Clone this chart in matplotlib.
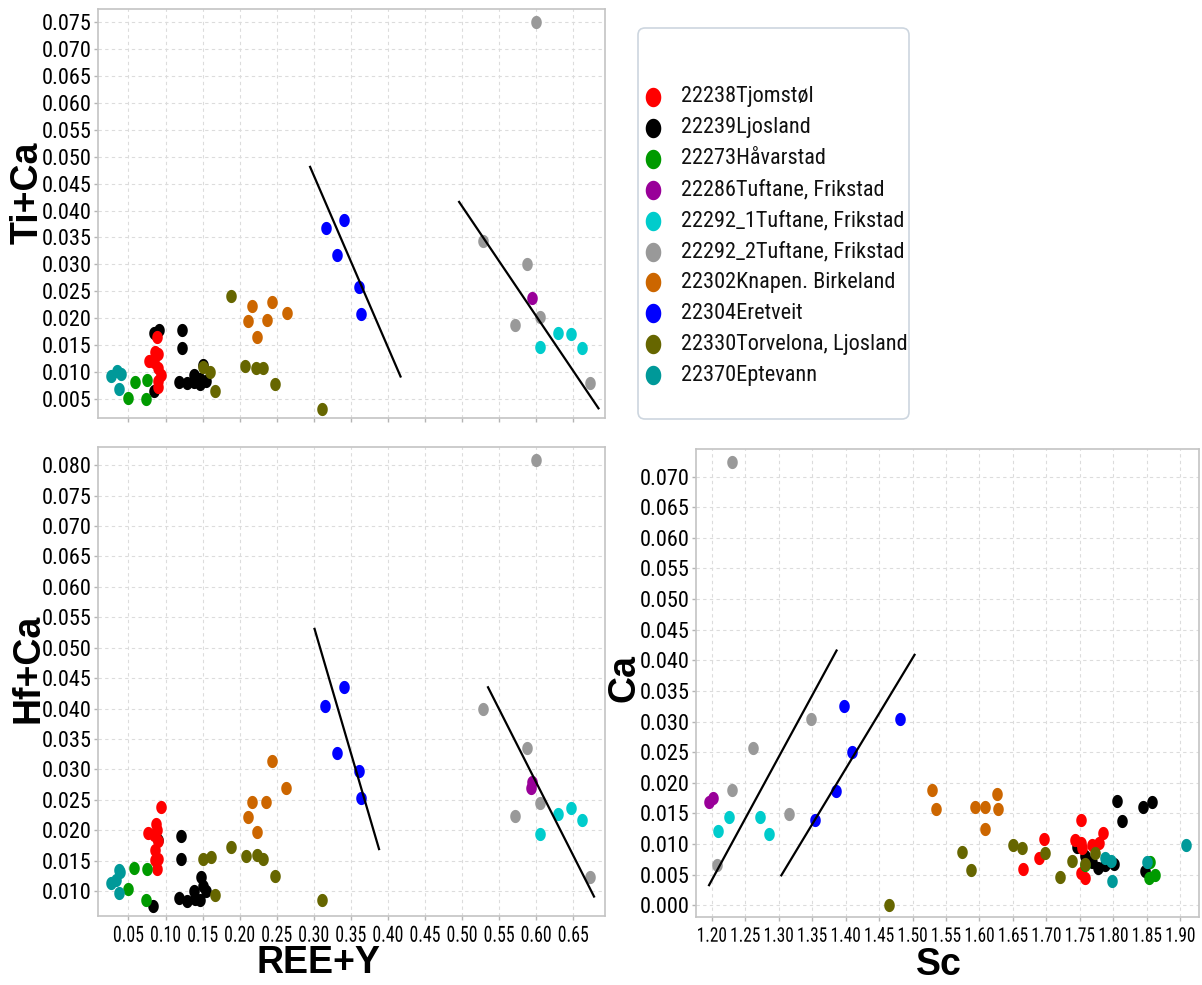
import matplotlib
matplotlib.use("Agg")
import matplotlib.pyplot as plt
from matplotlib import font_manager as fm
from matplotlib.path import Path
from matplotlib.patches import FancyBboxPatch
from matplotlib.patheffects import AbstractPathEffect
from matplotlib.transforms import Affine2D
import numpy as np

groups = ['22238Tjomstøl', '22239Ljosland', '22273Håvarstad', '22286Tuftane, Frikstad',
          '22292_1Tuftane, Frikstad', '22292_2Tuftane, Frikstad', '22302Knapen. Birkeland',
          '22304Eretveit', '22330Torvelona, Ljosland', '22370Eptevann']
colors = ['#ff0000', '#000000', '#009a00', '#990099', '#00cccc',
          '#999999', '#cc6600', '#0000ff', '#666600', '#009999']

# REE+Y vs Ti+Ca (upper left)
ti_x = {
    '22238Tjomstøl': [0.088, 0.086, 0.090, 0.078, 0.084, 0.090, 0.094, 0.090, 0.090],
    '22239Ljosland': [0.084, 0.091, 0.084, 0.122, 0.122, 0.118, 0.129, 0.139, 0.139, 0.147, 0.150, 0.154, 0.147],
    '22273Håvarstad': [0.049, 0.059, 0.075, 0.073],
    '22286Tuftane, Frikstad': [0.594],
    '22292_1Tuftane, Frikstad': [0.605, 0.629, 0.647, 0.662],
    '22292_2Tuftane, Frikstad': [0.600, 0.528, 0.588, 0.571, 0.605, 0.673],
    '22302Knapen. Birkeland': [0.216, 0.244, 0.211, 0.237, 0.264, 0.224],
    '22304Eretveit': [0.316, 0.341, 0.331, 0.361, 0.364],
    '22330Torvelona, Ljosland': [0.150, 0.160, 0.167, 0.188, 0.207, 0.222, 0.232, 0.248, 0.311],
    '22370Eptevann': [0.027, 0.034, 0.040, 0.037],
}
ti_y = {
    '22238Tjomstøl': [0.0166, 0.0138, 0.0133, 0.0120, 0.0119, 0.0108, 0.0095, 0.0083, 0.0072],
    '22239Ljosland': [0.0172, 0.0178, 0.0066, 0.0178, 0.0145, 0.0081, 0.0080, 0.0081, 0.0095, 0.0078, 0.0114, 0.0083, 0.0088],
    '22273Håvarstad': [0.0053, 0.0081, 0.0086, 0.0051],
    '22286Tuftane, Frikstad': [0.0238],
    '22292_1Tuftane, Frikstad': [0.0147, 0.0172, 0.0170, 0.0145],
    '22292_2Tuftane, Frikstad': [0.0750, 0.0344, 0.0300, 0.0188, 0.0203, 0.0080],
    '22302Knapen. Birkeland': [0.0223, 0.0231, 0.0195, 0.0197, 0.0210, 0.0166],
    '22304Eretveit': [0.0367, 0.0383, 0.0317, 0.0259, 0.0208],
    '22330Torvelona, Ljosland': [0.0109, 0.0100, 0.0066, 0.0242, 0.0111, 0.0108, 0.0108, 0.0078, 0.0031],
    '22370Eptevann': [0.0093, 0.0103, 0.0097, 0.0069],
}
ti_lines = [([0.295, 0.417], [0.0481, 0.0092]), ([0.496, 0.684], [0.0416, 0.0033])]

# REE+Y vs Hf+Ca (lower left)
hf_x = {
    '22238Tjomstøl': [0.094, 0.087, 0.088, 0.077, 0.084, 0.090, 0.086, 0.090, 0.088, 0.086],
    '22239Ljosland': [0.083, 0.090, 0.121, 0.121, 0.118, 0.129, 0.139, 0.140, 0.148, 0.147, 0.154, 0.150],
    '22273Håvarstad': [0.049, 0.058, 0.075, 0.073],
    '22286Tuftane, Frikstad': [0.593, 0.595],
    '22292_1Tuftane, Frikstad': [0.605, 0.629, 0.647, 0.662],
    '22292_2Tuftane, Frikstad': [0.600, 0.528, 0.588, 0.572, 0.605, 0.673],
    '22302Knapen. Birkeland': [0.243, 0.263, 0.216, 0.236, 0.211, 0.224],
    '22304Eretveit': [0.315, 0.341, 0.331, 0.361, 0.363],
    '22330Torvelona, Ljosland': [0.151, 0.161, 0.167, 0.188, 0.208, 0.223, 0.232, 0.247, 0.311],
    '22370Eptevann': [0.027, 0.033, 0.037, 0.039, 0.037],
}
hf_y = {
    '22238Tjomstøl': [0.0238, 0.0211, 0.0201, 0.0196, 0.0192, 0.0182, 0.0167, 0.0153, 0.0137, 0.0151],
    '22239Ljosland': [0.0075, 0.0184, 0.0190, 0.0153, 0.0089, 0.0083, 0.0100, 0.0087, 0.0123, 0.0086, 0.0100, 0.0108],
    '22273Håvarstad': [0.0104, 0.0138, 0.0137, 0.0086],
    '22286Tuftane, Frikstad': [0.0269, 0.0279],
    '22292_1Tuftane, Frikstad': [0.0193, 0.0226, 0.0237, 0.0217],
    '22292_2Tuftane, Frikstad': [0.0808, 0.0399, 0.0335, 0.0223, 0.0245, 0.0123],
    '22302Knapen. Birkeland': [0.0313, 0.0270, 0.0246, 0.0246, 0.0221, 0.0197],
    '22304Eretveit': [0.0404, 0.0436, 0.0327, 0.0297, 0.0253],
    '22330Torvelona, Ljosland': [0.0153, 0.0156, 0.0093, 0.0172, 0.0158, 0.0160, 0.0153, 0.0125, 0.0085],
    '22370Eptevann': [0.0114, 0.0119, 0.0135, 0.0132, 0.0096],
}
hf_lines = [([0.301, 0.388], [0.0531, 0.0169]), ([0.535, 0.678], [0.0435, 0.0091])]

# Sc vs Ca (lower right)
sc_x = {
    '22238Tjomstøl': [1.665, 1.689, 1.696, 1.751, 1.742, 1.751, 1.753, 1.768, 1.778, 1.785, 1.751, 1.758],
    '22239Ljosland': [1.745, 1.758, 1.768, 1.777, 1.788, 1.801, 1.806, 1.813, 1.845, 1.858, 1.847],
    '22273Håvarstad': [1.757, 1.855, 1.854, 1.862],
    '22286Tuftane, Frikstad': [1.196, 1.202],
    '22292_1Tuftane, Frikstad': [1.210, 1.226, 1.272, 1.285],
    '22292_2Tuftane, Frikstad': [1.231, 1.348, 1.261, 1.230, 1.315, 1.208],
    '22302Knapen. Birkeland': [1.529, 1.535, 1.594, 1.608, 1.609, 1.626, 1.628],
    '22304Eretveit': [1.397, 1.482, 1.409, 1.386, 1.354],
    '22330Torvelona, Ljosland': [1.465, 1.574, 1.588, 1.650, 1.664, 1.698, 1.720, 1.738, 1.772, 1.757],
    '22370Eptevann': [1.788, 1.797, 1.798, 1.909, 1.850],
}
sc_y = {
    '22238Tjomstøl': [0.0059, 0.0078, 0.0108, 0.0139, 0.0106, 0.0101, 0.0093, 0.0098, 0.0101, 0.0118, 0.0053, 0.0045],
    '22239Ljosland': [0.0095, 0.0081, 0.0070, 0.0061, 0.0066, 0.0067, 0.0171, 0.0137, 0.0161, 0.0169, 0.0056],
    '22273Håvarstad': [0.0066, 0.0070, 0.0045, 0.0050],
    '22286Tuftane, Frikstad': [0.0169, 0.0175],
    '22292_1Tuftane, Frikstad': [0.0121, 0.0145, 0.0145, 0.0117],
    '22292_2Tuftane, Frikstad': [0.0724, 0.0305, 0.0257, 0.0189, 0.0149, 0.0066],
    '22302Knapen. Birkeland': [0.0189, 0.0158, 0.0160, 0.0161, 0.0124, 0.0181, 0.0158],
    '22304Eretveit': [0.0325, 0.0304, 0.0250, 0.0187, 0.0139],
    '22330Torvelona, Ljosland': [0.0001, 0.0087, 0.0057, 0.0099, 0.0094, 0.0085, 0.0047, 0.0072, 0.0085, 0.0067],
    '22370Eptevann': [0.0078, 0.0073, 0.0039, 0.0099, 0.0070],
}
sc_lines = [([1.196, 1.3865], [0.0033, 0.0416]), ([1.304, 1.503], [0.0049, 0.0409])]

ree_ticks = [0.05, 0.10, 0.15, 0.20, 0.25, 0.30, 0.35, 0.40, 0.45, 0.50, 0.55, 0.60, 0.65]
ti_ticks = [0.005, 0.010, 0.015, 0.020, 0.025, 0.030, 0.035, 0.040, 0.045, 0.050,
            0.055, 0.060, 0.065, 0.070, 0.075]
hf_ticks = [0.010, 0.015, 0.020, 0.025, 0.030, 0.035, 0.040, 0.045, 0.050, 0.055,
            0.060, 0.065, 0.070, 0.075, 0.080]
sc_ticks = [1.20, 1.25, 1.30, 1.35, 1.40, 1.45, 1.50, 1.55, 1.60, 1.65, 1.70, 1.75,
            1.80, 1.85, 1.90]
ca_ticks = [0.000, 0.005, 0.010, 0.015, 0.020, 0.025, 0.030, 0.035, 0.040, 0.045,
            0.050, 0.055, 0.060, 0.065, 0.070]


# the tick labels in the picture are very narrow: look for a condensed face
def narrow_font():
    best = None
    for f in fm.fontManager.ttflist:
        if f.weight not in (400, 'normal', 'regular', 'book', 'Book'):
            continue
        if 'italic' in f.style or 'oblique' in f.style:
            continue
        name = f.name
        if 'Narrow' in name or 'Condensed' in name or f.stretch in ('condensed', 'semi-condensed'):
            rank = 0 if 'Liberation' in name else (1 if 'Roboto' in name else 2)
            if best is None or rank < best[0]:
                best = (rank, f.fname)
    return best[1] if best else None


class Squeeze(AbstractPathEffect):
    """draw text squeezed sideways around its own centre"""

    def __init__(self, sx):
        super().__init__()
        self.sx = sx

    def draw_path(self, renderer, gc, tpath, affine, rgbFace=None):
        ext = tpath.get_extents()
        cx = 0.5 * (ext.x0 + ext.x1)
        squeeze = Affine2D().translate(-cx, 0).scale(self.sx, 1).translate(cx, 0)
        renderer.draw_path(gc, tpath, squeeze + affine, rgbFace)


nf = narrow_font()
if nf:
    ytick_fp = fm.FontProperties(fname=nf, size=16)
    xtick_fp = fm.FontProperties(fname=nf, size=16)
    sctick_fp = fm.FontProperties(fname=nf, size=14.5)
    leg_fp = fm.FontProperties(fname=nf, size=16)
else:
    ytick_fp = fm.FontProperties(family='DejaVu Sans', size=12.5)
    xtick_fp = fm.FontProperties(family='DejaVu Sans', size=12.5)
    sctick_fp = fm.FontProperties(family='DejaVu Sans', size=11)
    leg_fp = fm.FontProperties(family='DejaVu Sans', size=12.5)

# points in the picture are a bit taller than wide
t = np.linspace(0, 2 * np.pi, 48)
oval = Path(np.column_stack([0.8 * np.cos(t), np.sin(t)]), closed=True)

W, H = 1202, 985
fig = plt.figure(figsize=(W / 100, H / 100), dpi=100)


def px_axes(l, t_, r, b):
    return fig.add_axes([l / W, 1 - b / H, (r - l) / W, (b - t_) / H])


ax_ti = px_axes(98, 9, 605, 418)
ax_hf = px_axes(98, 447, 605, 916)
ax_sc = px_axes(696, 449, 1199, 917)

order = [1, 0, 2, 3, 4, 5, 6, 7, 8, 9]
panels = [(ax_ti, ti_x, ti_y, ti_lines), (ax_hf, hf_x, hf_y, hf_lines), (ax_sc, sc_x, sc_y, sc_lines)]
for ax, xs, ys, lines in panels:
    for i in order:
        g = groups[i]
        ax.plot(xs[g], ys[g], linestyle='none', marker=oval, markersize=9.5,
                color=colors[i], markeredgewidth=0, zorder=3)
    for lx, ly in lines:
        ax.plot(lx, ly, color='black', linewidth=1.6, zorder=4)
    ax.grid(True, color='#dcdcdc', linestyle=(0, (3, 3)), linewidth=0.8)
    ax.set_axisbelow(True)
    for s in ax.spines.values():
        s.set_color('#c4c4c4')
        s.set_linewidth(1.2)
    ax.tick_params(colors='#b4b4b4', labelcolor='black', length=3, width=1, pad=1.5)
    ax.tick_params(axis='x', pad=4)

for ax in (ax_ti, ax_hf):
    ax.set_xlim(0.0089, 0.6928)
    ax.set_xticks(ree_ticks)
ax_ti.set_xticklabels([])
ax_hf.set_xticklabels(['%.2f' % v for v in ree_ticks])
ax_ti.set_ylim(0.0015, 0.0774)
ax_ti.set_yticks(ti_ticks)
ax_ti.set_yticklabels(['%.3f' % v for v in ti_ticks])
ax_hf.set_ylim(0.0059, 0.0830)
ax_hf.set_yticks(hf_ticks)
ax_hf.set_yticklabels(['%.3f' % v for v in hf_ticks])
ax_sc.set_xlim(1.1765, 1.928)
ax_sc.set_xticks(sc_ticks)
ax_sc.set_xticklabels(['%.2f' % v for v in sc_ticks])
ax_sc.set_ylim(-0.0019, 0.0745)
ax_sc.set_yticks(ca_ticks)
ax_sc.set_yticklabels(['%.3f' % v for v in ca_ticks])

for ax, fp, sx in ((ax_ti, xtick_fp, 0.8), (ax_hf, xtick_fp, 0.8), (ax_sc, sctick_fp, 0.86)):
    for lbl in ax.get_xticklabels():
        lbl.set_fontproperties(fp)
        lbl.set_path_effects([Squeeze(sx)])
    for lbl in ax.get_yticklabels():
        lbl.set_fontproperties(ytick_fp)

lab = dict(fontsize=27, fontweight='bold', family=['Liberation Sans', 'DejaVu Sans'],
           ha='center', va='center')
ax_ti.set_ylabel('Ti+Ca', **lab)
ax_ti.yaxis.set_label_coords(-0.138, 0.55)
ax_hf.set_ylabel('Hf+Ca', **lab)
ax_hf.yaxis.set_label_coords(-0.138, 0.527)
ax_sc.set_ylabel('Ca', **lab)
ax_sc.yaxis.set_label_coords(-0.143, 0.511)
ax_hf.set_xlabel('REE+Y', **lab)
ax_hf.xaxis.set_label_coords(0.434, -0.100)
ax_sc.set_xlabel('Sc', **lab)
ax_sc.xaxis.set_label_coords(0.483, -0.103)

# legend box
lg = px_axes(637, 27, 910, 420)
lg.set_xlim(0, 273)
lg.set_ylim(393, 0)
lg.axis('off')
lg.add_patch(FancyBboxPatch((1, 1), 271, 391, boxstyle='round,pad=0,rounding_size=7',
                            facecolor='white', edgecolor='#cdd6df', linewidth=1.2))
for i, g in enumerate(groups):
    yy = 70 + 30.9 * i
    lg.plot([16], [yy], marker=oval, markersize=14, color=colors[i], markeredgewidth=0)
    lg.text(44, yy, g, fontproperties=leg_fp, va='center', ha='left', color='#111111')

fig.savefig('out.png', dpi=100)
